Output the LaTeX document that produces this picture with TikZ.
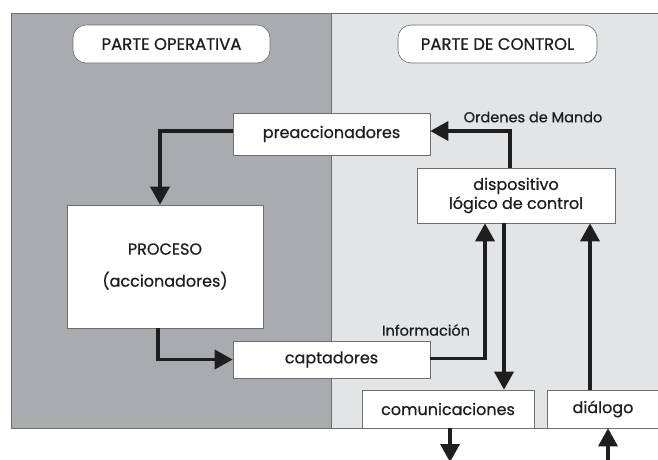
\documentclass[tikz,border=0pt]{standalone}
\usepackage{fontspec}
\setmainfont{Poppins}[FakeBold=0.7]
\usetikzlibrary{arrows.meta}
\definecolor{darkpanel}{RGB}{170,171,175}
\definecolor{lightpanel}{RGB}{227,228,230}
\definecolor{edge}{RGB}{110,110,112}
\definecolor{ink}{RGB}{30,30,30}
\tikzset{
  box/.style={draw=edge, line width=0.6pt, fill=white, inner sep=0pt, text=ink, font=\fontsize{16}{19}\selectfont, align=center},
  tag/.style={box, rounded corners=13pt, font=\fontsize{16.5}{19}\selectfont},
  arr/.style={draw=ink, line width=3.6pt, -{Triangle[width=19pt,length=18pt]}},
  lbl/.style={text=ink, font=\fontsize{14.5}{17}\selectfont, inner sep=0pt}
}
\begin{document}
\begin{tikzpicture}[x=1pt, y=-1pt]
\useasboundingbox (0,0) rectangle (658,459);
\clip (0,0) rectangle (658,459);
\fill[white] (0,0) rectangle (658,459);
\filldraw[fill=darkpanel, draw=edge, line width=0.7pt] (11,13) rectangle (331,428);
\filldraw[fill=lightpanel, draw=edge, line width=0.7pt] (331,13) rectangle (670,428);

\node[tag, minimum width=197pt, minimum height=38pt] (po) at (171.5,44) {PARTE OPERATIVA};
\node[tag, minimum width=199pt, minimum height=38pt] (pc) at (497.5,44) {PARTE DE CONTROL};

\node[box, minimum width=197pt, minimum height=42pt] (pre) at (331.5,134) {preaccionadores};
\node[box, minimum width=196pt, minimum height=123pt] (proc) at (165,266.5) {PROCESO\\[13pt](accionadores)};
\node[box, minimum width=197pt, minimum height=37pt] (cap) at (331.5,359.5) {captadores};
\node[box, minimum width=198pt, minimum height=55pt] (dlc) at (516,195.5) {dispositivo\\lógico de control};
\node[box, minimum width=172pt, minimum height=38pt] (com) at (448,409) {comunicaciones};
\node[box, minimum width=112pt, minimum height=38pt] (dial) at (603,409) {diálogo};

\coordinate (outc) at (450,462);
\coordinate (inc) at (608,462);

\draw[arr] ([yshift=3pt]pre.west) -| ([xshift=-5pt]proc.north);
\draw[arr] ([xshift=-7pt]proc.south) |- (cap.west);
\draw[arr] ([xshift=-6pt]dlc.north) |- ([yshift=3pt]pre.east);
\draw[arr] ([yshift=1pt]cap.east) -| ([xshift=-31pt]dlc.south);
\draw[arr] ([xshift=-12pt]dlc.south) -- ([xshift=-12pt]dlc.south |- com.north);
\draw[arr] ([xshift=-13pt]dial.north) -- ([xshift=-13pt]dial.north |- dlc.south);
\draw[arr] ([xshift=2pt]com.south) -- (outc);
\draw[arr] (inc) -- (inc |- dial.south);

\node[lbl] (om) at (533,117) {Ordenes de Mando};
\node[lbl] (inf) at (426,330) {Información};
\end{tikzpicture}
\end{document}
